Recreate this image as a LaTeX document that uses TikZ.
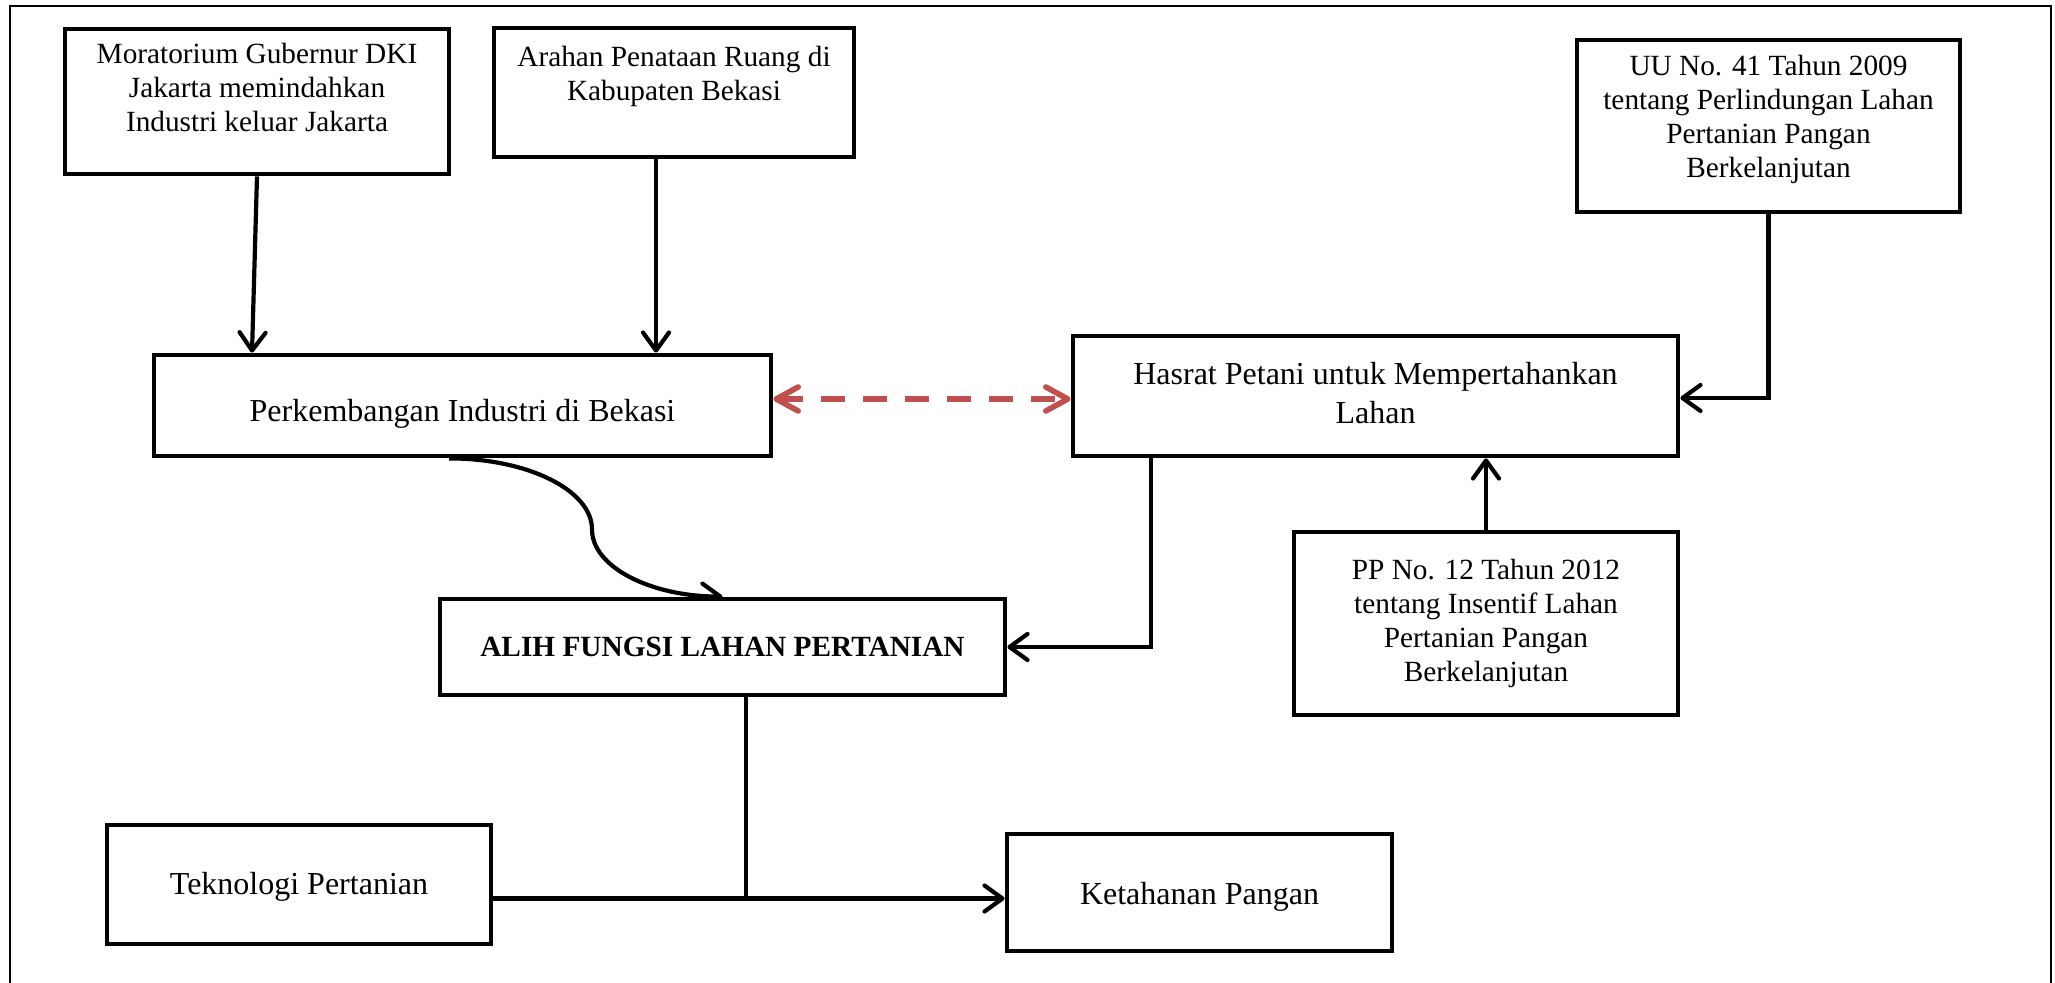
\documentclass[tikz,border=0pt]{standalone}
\usepackage{fontspec}
\setmainfont{Liberation Serif}
\usetikzlibrary{arrows.meta,calc}
\pgfdeclarelayer{bg}
\pgfsetlayers{bg,main}
\definecolor{dashred}{HTML}{C0504D}
\newcommand{\smallf}{\fontsize{14.65}{17}\selectfont}
\newcommand{\bigf}{\fontsize{16}{19.5}\selectfont}
\newcommand{\lift}[2]{\raisebox{#1}[\height][\depth]{#2}}
\newcommand{\lines}[1]{\begin{tabular}{@{}c@{}}#1\end{tabular}}
\begin{document}
\begin{tikzpicture}[x=0.5pt,y=-0.5pt,
  box/.style={draw, line width=2.4pt, fill=white, inner sep=0pt, align=center, font=\smallf},
  bigtext/.style={font=\bigf},
  sz/.style 2 args={minimum width={#1*0.5pt}, minimum height={#2*0.5pt}},
  conn/.style={line width=2.1pt, -{Straight Barb[length=9pt,width=13pt,round]}},
  dashconn/.style={draw=dashred, line width=2.8pt, dash pattern=on 12pt off 9pt,
    {Straight Barb[length=11pt,width=12pt,round]}-{Straight Barb[length=11pt,width=12pt,round]}},
  frame/.style={line width=1pt}
  ]
\useasboundingbox (0,0) rectangle (2055,983);

% boxes
\node[box, sz={384}{145}] (mor) at (257,101.5)
  {\lift{5.5pt}{\lines{Moratorium Gubernur DKI\\ Jakarta memindahkan\\ Industri keluar Jakarta}}};
\node[box, sz={360}{129}] (ara) at (674,92.5)
  {\lift{8pt}{\lines{Arahan Penataan Ruang di\\ Kabupaten Bekasi}}};
\node[box, bigtext, sz={617}{101}] (per) at (462.5,405.5)
  {\lift{-4pt}{Perkembangan Industri di Bekasi}};
\node[box, bigtext, sz={605}{120}] (has) at (1375.5,396)
  {\lines{Hasrat Petani untuk Mempertahankan\\ Lahan}};
\node[box, sz={383}{172}] (uu) at (1768.5,126)
  {\lift{3pt}{\lines{UU No. 41 Tahun 2009\\ tentang Perlindungan Lahan\\ Pertanian Pangan\\ Berkelanjutan}}};
\node[box, sz={565}{96}] (alih) at (722.5,647)
  {\bfseries ALIH FUNGSI LAHAN PERTANIAN};
\node[box, sz={384}{183}] (pp) at (1486,623.5)
  {\lines{PP No. 12 Tahun 2012\\ tentang Insentif Lahan\\ Pertanian Pangan\\ Berkelanjutan}};
\node[box, bigtext, sz={384}{119}] (tek) at (299,884.5)
  {\lift{-1pt}{Teknologi Pertanian}};
\node[box, bigtext, sz={385}{117}] (ket) at (1199.5,892.5)
  {\lift{-2pt}{Ketahanan Pangan}};

% helper coordinates
\coordinate (m1) at ([xshift=-2.5pt]mor.south);
\coordinate (a1) at ([xshift=-9pt]ara.south);
\coordinate (d1) at ($(per.east)+(0,-6.5)$);
\coordinate (h1) at ([xshift=40pt]has.south west);
\coordinate (h2) at ([yshift=-1pt]has.east);
\coordinate (c0) at ([xshift=-6.75pt]per.south);
\coordinate (cm) at ($(c0)+(143,71)$);
\coordinate (Jx) at ([xshift=11.75pt]alih.south);
\coordinate (Jy) at ([yshift=-3pt]ket.west);

\begin{pgfonlayer}{bg}
\draw[frame] (10,995) -- (10,6) -- (2051,6) -- (2051,995);
\draw[conn] (mor.south) -- (m1 |- per.north);
\draw[conn] (a1) -- (a1 |- per.north);
\draw[dashconn] (d1) -- (d1 -| has.west);
\draw[conn] (uu.south) |- (h2);
\draw[conn] (h1) |- (alih.east);
\draw[conn] (pp.north) -- (pp.north |- has.south);
\draw[conn] (c0) .. controls +(79,0) and +(0,-39) .. (cm)
                 .. controls +(0,38) and +(-71,0) .. (alih.north);
\draw[conn] (Jx) |- (Jy);
\draw[line width=2.6pt] (tek.east |- Jy) -- (Jx |- Jy);
\end{pgfonlayer}
\end{tikzpicture}
\end{document}
